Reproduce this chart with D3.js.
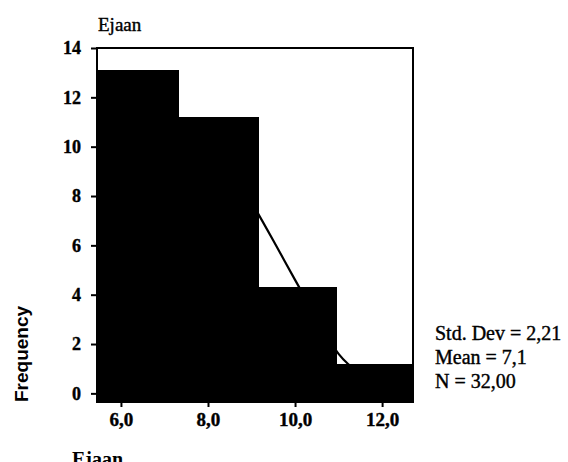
<!DOCTYPE html>
<html>
<head>
<meta charset="utf-8">
<script src="https://cdn.jsdelivr.net/npm/d3@7"></script>
<style>
  body { margin: 0; background: #fff; }
</style>
</head>
<body>
<div id="main"></div>
<script>

// histogram data
const binEdges = [5.45, 7.29, 9.13, 10.94, 12.71];
const counts = [13.1, 11.2, 4.3, 1.2];

// normal curve points, estimated from the visible parts
const curveX = [5.45, 6.0, 6.5, 7.0, 7.5, 8.0, 8.5, 9.0, 9.5, 10.0, 10.5, 11.0, 11.5, 12.0, 12.5, 12.71];
const curveY = [8.0, 9.4, 10.4, 11.05, 10.9, 10.3, 9.2, 7.75, 6.2, 4.6, 3.05, 1.6, 0.8, 0.4, 0.2, 0.15];

const yTicks = [0, 2, 4, 6, 8, 10, 12, 14];
const xTicks = [6, 8, 10, 12];
const xTickLabels = ['6,0', '8,0', '10,0', '12,0'];

const statLines = ['Std. Dev = 2,21', 'Mean = 7,1', 'N = 32,00'];
const varName = 'Ejaan';

const w = 568;
const h = 462;

const svg = d3.select('#main').append('svg')
    .attr('width', w).attr('height', h)
    .style('font-family', '"Liberation Serif", "Times New Roman", serif');

svg.append('rect').attr('width', w).attr('height', h).attr('fill', '#fff');

const xScale = d3.scaleLinear().domain([binEdges[0], binEdges[binEdges.length - 1]]).range([97, 413]);
const yScale = d3.scaleLinear().domain([-0.35, 14]).range([402, 48]);

// bars
const bins = counts.map((c, i) => ({ x0: binEdges[i], x1: binEdges[i + 1], n: c }));

svg.append('g').attr('shape-rendering', 'crispEdges')
    .selectAll('rect').data(bins).enter().append('rect')
    .attr('x', d => Math.floor(xScale(d.x0)))
    .attr('y', d => yScale(d.n))
    .attr('width', d => Math.ceil(xScale(d.x1) - Math.floor(xScale(d.x0))) + 1)
    .attr('height', d => yScale(-0.35) - yScale(d.n))
    .attr('fill', '#000');

// normal curve
const line = d3.line()
    .x(d => xScale(d[0]))
    .y(d => yScale(d[1]))
    .curve(d3.curveMonotoneX);

svg.append('path')
    .datum(curveX.map((x, i) => [x, curveY[i]]))
    .attr('d', line)
    .attr('fill', 'none')
    .attr('stroke', '#000')
    .attr('stroke-width', 2.2);

// frame
svg.append('rect')
    .attr('x', 97).attr('y', 48)
    .attr('width', 316).attr('height', 354)
    .attr('fill', 'none').attr('stroke', '#000').attr('stroke-width', 2);

// y axis
const yAxis = d3.axisLeft(yScale).tickValues(yTicks).tickSize(6).tickPadding(10).tickFormat(d3.format('d'));
const yg = svg.append('g').attr('transform', 'translate(97,0)').call(yAxis);
yg.select('.domain').remove();
yg.selectAll('line').attr('stroke', '#000').attr('stroke-width', 2);
yg.selectAll('text')
    .style('font-family', '"Liberation Serif", serif')
    .style('font-size', '18px').style('font-weight', 'bold')
    .attr('fill', '#000').attr('stroke', '#000').attr('stroke-width', 0.4);

// x axis
const xAxis = d3.axisBottom(xScale).tickValues(xTicks).tickSize(5).tickPadding(6)
    .tickFormat((d, i) => xTickLabels[i]);
const xg = svg.append('g').attr('transform', 'translate(0,402)').call(xAxis);
xg.select('.domain').remove();
xg.selectAll('line').attr('stroke', '#000').attr('stroke-width', 2);
xg.selectAll('text')
    .style('font-family', '"Liberation Serif", serif')
    .style('font-size', '19px').style('font-weight', 'bold')
    .attr('fill', '#000').attr('stroke', '#000').attr('stroke-width', 0.4);

// titles
svg.append('text').text(varName).attr('x', 98).attr('y', 31)
    .style('font-size', '19px').attr('stroke', '#000').attr('stroke-width', 0.4);

svg.append('text').text(varName).attr('x', 72).attr('y', 466)
    .style('font-size', '20px').style('font-weight', 'bold');

svg.append('text').text('Frequency')
    .attr('transform', 'translate(28,354) rotate(-90)')
    .style('text-anchor', 'middle')
    .style('font-family', '"Liberation Sans", Arial, sans-serif')
    .style('font-size', '19px').style('font-weight', 'bold');

// stats
svg.append('g').selectAll('text').data(statLines).enter().append('text')
    .text(d => d)
    .attr('x', 435)
    .attr('y', (d, i) => 340 + i * 24)
    .style('font-size', '20px')
    .attr('stroke', '#000').attr('stroke-width', 0.4);

</script>
</body>
</html>
